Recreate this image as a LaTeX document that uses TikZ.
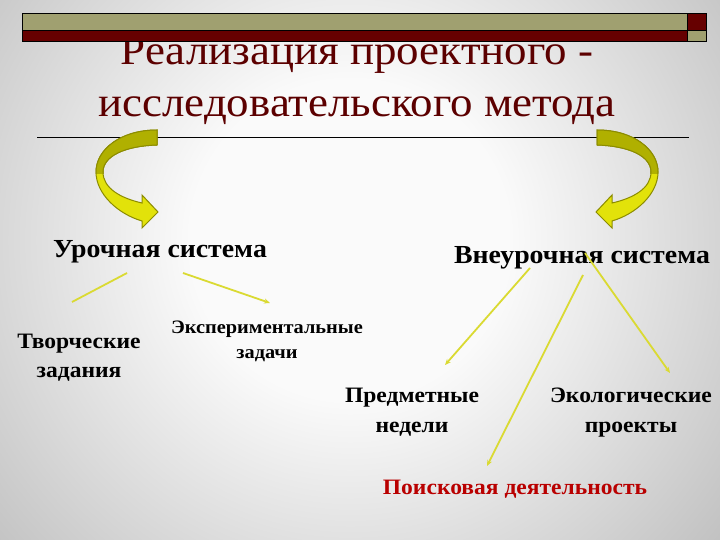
\documentclass[tikz,border=0pt]{standalone}
\usepackage{fontspec}
\setmainfont{Liberation Serif}
\usetikzlibrary{arrows.meta}
\definecolor{bgin}{RGB}{250,250,250}
\definecolor{bgout}{RGB}{100,100,100}
\definecolor{barolive}{RGB}{160,160,112}
\definecolor{barmaroon}{RGB}{102,0,0}
\definecolor{titlecol}{RGB}{92,0,0}
\definecolor{arrback}{RGB}{176,176,0}
\definecolor{arrfront}{RGB}{226,226,10}
\definecolor{arredge}{RGB}{140,140,0}
\definecolor{conncol}{RGB}{218,218,50}
\definecolor{redtxt}{RGB}{185,0,0}
\pgfdeclareradialshading{bgshade}{\pgfpoint{0bp}{0bp}}{color(0bp)=(bgin); color(8bp)=(bgin); color(50bp)=(bgout)}
\tikzset{
  titletxt/.style={font=\addfontfeature{FakeStretch=1.07}\fontsize{42}{46}\selectfont, text=titlecol, inner sep=0pt, anchor=base},
  lbl/.style 2 args={font=\bfseries\addfontfeature{FakeStretch=1.07}\fontsize{#1}{#2}\selectfont, inner sep=0pt, anchor=base, align=center},
  conn/.style={draw=conncol, line width=1.8pt},
  connarr/.style={conn, -{Stealth[length=6pt,width=5pt]}},
}
\newcommand{\curlpath}{%
  (157,130) .. controls (120,130) and (96,150) .. (96,172)
  .. controls (96,194) and (118,214) .. (142,221)
  -- (142,228) -- (158,212) -- (142,195) -- (142,203)
  .. controls (120,198) and (103,188) .. (103,172)
  .. controls (103,156) and (125,146) .. (157,145) -- cycle}
\newcommand{\curlarrow}{%
  \path[fill=arrfront, draw=arredge, line width=1pt] \curlpath;
  \begin{scope}
    \clip (80,120) rectangle (170,174);
    \path[fill=arrback, draw=arredge, line width=1pt] \curlpath;
  \end{scope}}
\begin{document}
\begin{tikzpicture}[x=1pt,y=-1pt]
\useasboundingbox (0,0) rectangle (720,540);
\begin{scope}
  \clip (0,0) rectangle (720,540);
  \shade[shading=bgshade] (-150,-260) rectangle (850,740);
\end{scope}
% title
\node[titletxt] (t1) at (357,65) {Реализация проектного -};
\node[titletxt] (t2) at (357,117) {исследовательского метода};
% title bar
\fill[barolive, draw=black, line width=0.8pt] (22,13) rectangle (687,30);
\fill[barmaroon, draw=black, line width=0.8pt] (22,30) rectangle (687,41);
\fill[barmaroon, draw=black, line width=0.8pt] (687,13) rectangle (706,30);
\fill[barolive, draw=black, line width=0.8pt] (687,30) rectangle (706,41);
% rule
\draw[black, line width=0.9pt] (37,137) -- (689,137);
% curled arrows
\curlarrow
\begin{scope}[shift={(754,0)}, xscale=-1]
\curlarrow
\end{scope}
% labels
\node[lbl={26}{26}] (uroch) at (160,258) {Урочная система};
\node[lbl={26}{26}] (vneur) at (582,263) {Внеурочная система};
\node[lbl={22}{28.5}] (tvor) at (79,377) {Творческие\\задания};
\node[lbl={19}{25}] (eksp) at (267,358) {Экспериментальные\\задачи};
\node[lbl={22}{30}] (pred) at (412,432) {Предметные\\недели};
\node[lbl={22}{30}] (ekol) at (631,432) {Экологические\\проекты};
\node[lbl={22}{22}, text=redtxt] (poisk) at (515,494) {Поисковая деятельность};
% connectors
\coordinate (a1) at (127,273); \coordinate (b1) at (72,302);
\coordinate (a2) at (183,273); \coordinate (b2) at (270,303);
\coordinate (a3) at (530,268); \coordinate (b3) at (445,365);
\coordinate (a4) at (583,275); \coordinate (b4) at (487,466);
\coordinate (a5) at (585,253); \coordinate (b5) at (670,373);
\draw[conn] (a1) -- (b1);
\draw[connarr] (a2) -- (b2);
\draw[connarr] (a3) -- (b3);
\draw[connarr] (a4) -- (b4);
\draw[connarr] (a5) -- (b5);
\end{tikzpicture}
\end{document}
